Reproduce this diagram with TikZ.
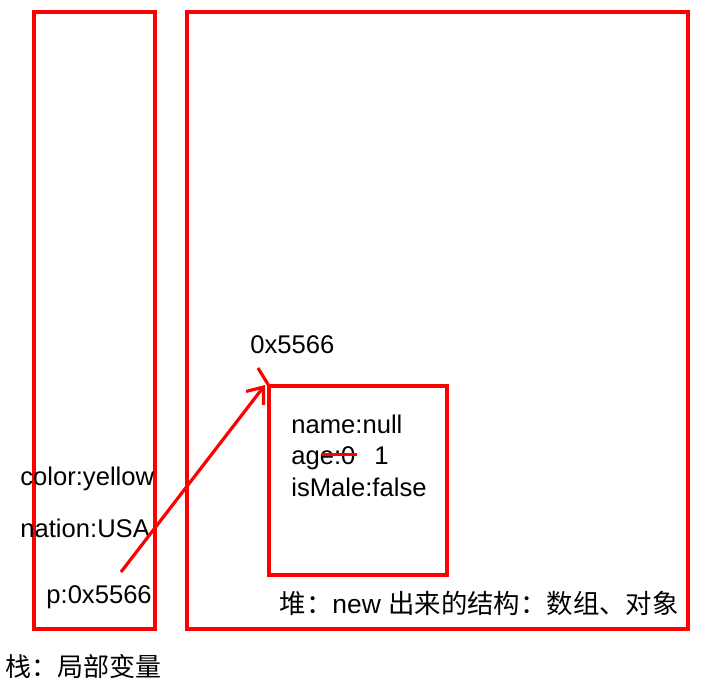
\documentclass[tikz,border=0pt]{standalone}
\usepackage{fontspec}
\setmainfont{Liberation Sans}
\newfontfamily\cjk{Noto Sans CJK SC}
\usepackage{tikz}
\usetikzlibrary{arrows.meta, positioning, calc}
\definecolor{memred}{RGB}{255,0,0}

\begin{document}
\begin{tikzpicture}[x=0.5pt,y=-0.5pt,
	membox/.style={draw=memred, line width=2pt},
	lbl/.style={inner sep=0pt, anchor=base west, font=\fontsize{12.8}{15}\selectfont},
	ptr/.style={draw=memred, line width=1.6pt, -{Straight Barb[length=7pt,width=11pt]}}]
	\useasboundingbox (0,0) rectangle (707,685);
	% stack and heap
	\draw[membox] (34,12) rectangle (155,629);
	\draw[membox] (187,12) rectangle (688,629);
	\node[membox, inner sep=0pt, outer sep=0pt, minimum width=89pt, minimum height=94.5pt, anchor=north west] (obj) at (269,386) {};
	% stack contents
	\node[lbl] (color) at (20,485) {color:yellow};
	\node[lbl] (nation) at (20,537) {nation:USA};
	\node[lbl] (pvar) at (46,603) {p:0x5566};
	\node[lbl, font=\fontsize{13}{15}\selectfont] (stack) at (5,676) {\cjk 栈：局部变量};
	% object contents
	\node[lbl] (addr) at (250,353) {0x5566};
	\node[lbl] (fname) at (291,433) {name:null};
	\node[lbl] (fage) at (291,464) {age:0};
	\node[lbl] (fnew) at (374,464) {1};
	\node[lbl] (fmale) at (291,496) {isMale:false};
	\node[lbl, anchor=base east, font=\fontsize{13.2}{15}\selectfont] (heap) at (679,613) {\cjk 堆：\fontspec{Liberation Sans}new \cjk 出来的结构：数组、对象};
	\draw[memred, line width=1.5pt] (322,454) -- (357,454);
	% reference
	\coordinate (pstart) at (121,572);
	\coordinate (tick) at (258,368);
	\draw[memred, line width=1.6pt] (tick) -- (obj.north west);
	\draw[ptr] (pstart) -- ($(obj.north west)+(-4,-1)$);
\end{tikzpicture}
\end{document}
